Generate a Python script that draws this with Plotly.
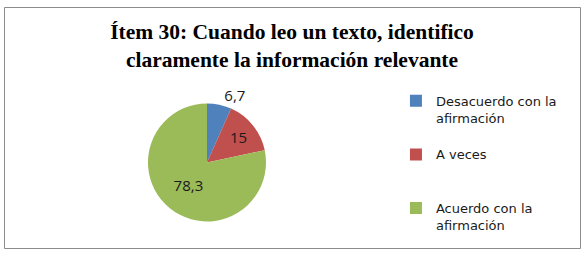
import plotly.graph_objects as go

categories = ["Desacuerdo con la<br>afirmación<br> ", "A veces<br> <br> ", "Acuerdo con la<br>afirmación"]
values = [6.7, 15, 78.3]
value_labels = ["6,7", "15", "78,3"]
colors = ["#4F81BD", "#C0504D", "#9BBB59"]
title_text = "<b>Ítem 30: Cuando leo un texto, identifico<br>claramente la información relevante</b>"

fig = go.Figure(go.Pie(
    labels=categories,
    values=values,
    text=value_labels,
    texttemplate="%{text}",
    textposition=["outside", "inside", "inside"],
    insidetextorientation="horizontal",
    textfont=dict(family="Open Sans, Liberation Sans, sans-serif", size=15, color="#1a1a1a"),
    marker=dict(colors=colors, line=dict(width=0)),
    sort=False,
    direction="clockwise",
    rotation=0,
    domain=dict(x=[0.2534, 0.4555], y=[0.133, 0.598]),
    hoverinfo="skip",
))

fig.update_layout(
    width=584, height=256,
    margin=dict(l=0, r=0, t=0, b=0),
    paper_bgcolor="white",
    title=dict(text=title_text, x=0.5, xanchor="center", y=0.848, yanchor="top",
               font=dict(family="Liberation Serif, Times New Roman, serif", size=21.5, color="#000000")),
    legend=dict(x=0.678, y=0.665, xanchor="left", yanchor="top", valign="top",
                font=dict(family="DejaVu Sans, sans-serif", size=13, color="#1a1a1a"),
                itemwidth=30, tracegroupgap=0, bgcolor="rgba(0,0,0,0)"),
    shapes=[dict(type="rect", xref="paper", yref="paper",
                 x0=4.5/584, x1=580.5/584, y0=1-248.5/256, y1=1-7.5/256,
                 line=dict(color="#8c8c8c", width=1))],
)

fig.write_html("out.html", config={"displayModeBar": False},
               post_script="document.body.style.margin='0px';")
